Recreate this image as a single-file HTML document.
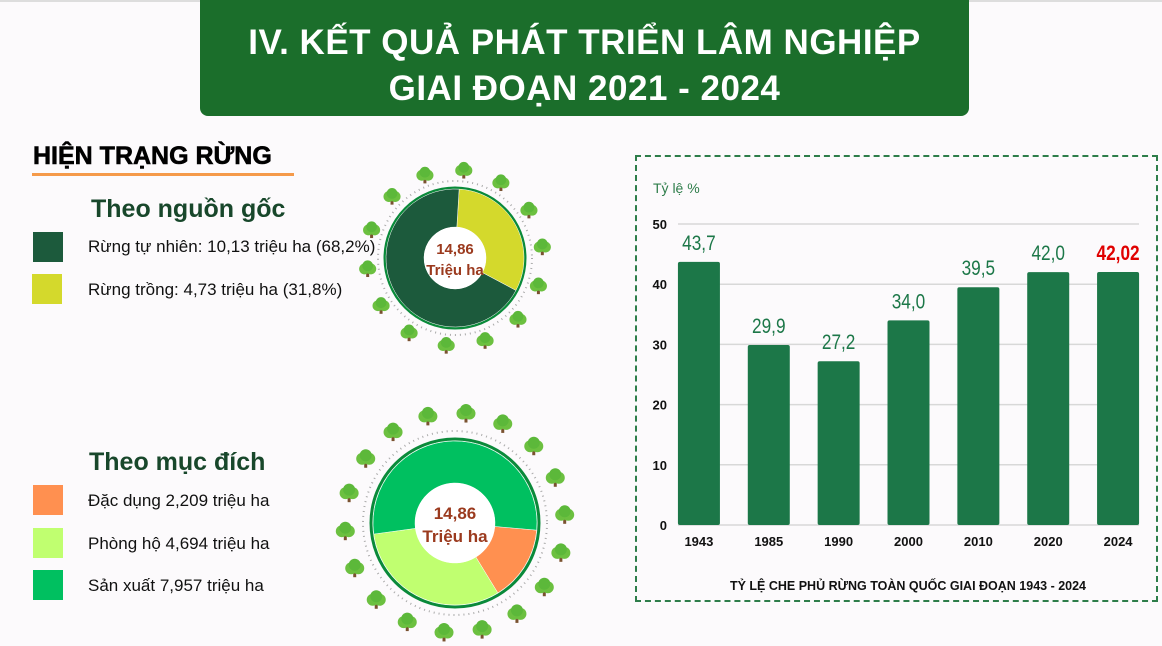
<!DOCTYPE html>
<html><head><meta charset="utf-8"><style>
body{margin:0;width:1162px;height:646px;background:#fcfafc;position:relative;overflow:hidden;font-family:"Liberation Sans","Noto Sans CJK SC",sans-serif}
.abs{position:absolute}
.hdr{left:200px;top:0;width:769px;height:116px;background:#1b6e2b;border-radius:0 0 8px 8px;color:#fff;text-align:center;font-weight:bold;font-size:35px;line-height:46px;padding-top:20px;box-sizing:border-box;letter-spacing:0.5px}
.sw{width:30px;height:30px}
.lg{font-size:17px;color:#111}
.t2{font-weight:bold;color:#18472b;font-size:25px}
</style></head><body>
<div class="abs" style="left:0;top:0;width:1162px;height:2px;background:#ddd"></div>
<div class="abs hdr">IV. KẾT QUẢ PHÁT TRIỂN LÂM NGHIỆP<br>GIAI ĐOẠN 2021 - 2024</div>
<div class="abs" style="left:33px;top:142px;font-weight:bold;font-size:25px;color:#000;-webkit-text-stroke:0.6px #000">HIỆN TRẠNG RỪNG</div>
<div class="abs" style="left:32px;top:173px;width:262px;height:3px;background:#f59a4a"></div>
<div class="abs t2" style="left:91px;top:195px">Theo nguồn gốc</div>
<div class="abs sw" style="left:33px;top:232px;background:#1c5a3c"></div>
<div class="abs lg" style="left:88px;top:237px">Rừng tự nhiên: 10,13 triệu ha (68,2%)</div>
<div class="abs sw" style="left:32px;top:274px;background:#d4d92c"></div>
<div class="abs lg" style="left:88px;top:280px">Rừng trồng: 4,73 triệu ha (31,8%)</div>
<div class="abs t2" style="left:89px;top:448px">Theo mục đích</div>
<div class="abs sw" style="left:33px;top:485px;background:#ff9050"></div>
<div class="abs lg" style="left:88px;top:491px">Đặc dụng 2,209 triệu ha</div>
<div class="abs sw" style="left:33px;top:528px;background:#c0ff70"></div>
<div class="abs lg" style="left:88px;top:534px">Phòng hộ 4,694 triệu ha</div>
<div class="abs sw" style="left:33px;top:570px;background:#00c060"></div>
<div class="abs lg" style="left:88px;top:576px">Sản xuất 7,957 triệu ha</div>

<svg class="abs" style="left:0;top:0" width="1162" height="646" id="donuts"></svg>

<div class="abs" style="left:635px;top:155px;width:523px;height:447px;border:2px dashed #2e7d4a;box-sizing:border-box"></div>
<svg class="abs" style="left:0;top:0" width="1162" height="646" id="bars"></svg>

<script>
const NS="http://www.w3.org/2000/svg";
function mk(p,t,a){const e=document.createElementNS(NS,t);for(const k in a)e.setAttribute(k,a[k]);p.appendChild(e);return e;}
// donut data
const originLabels=["Rừng tự nhiên","Rừng trồng"];
const originValues=[10.13,4.73];
const originColors=["#1c5a3c","#d4d92c"];
const purposeLabels=["Đặc dụng","Phòng hộ","Sản xuất"];
const purposeValues=[2.209,4.694,7.957];
const purposeColors=["#ff9050","#c0ff70","#00c060"];
// bar data
const years=["1943","1985","1990","2000","2010","2020","2024"];
const cover=[43.7,29.9,27.2,34.0,39.5,42.0,42.02];
const coverLabels=["43,7","29,9","27,2","34,0","39,5","42,0","42,02"];
const yTicks=[0,10,20,30,40,50];

const D=document.getElementById('donuts');
function arc(cx,cy,r0,r1,a0,a1){const p=a=>[(Math.sin(a)),(-Math.cos(a))];const [s0,c0]=p(a0),[s1,c1]=p(a1);const lg=(a1-a0)>Math.PI?1:0;
return `M${cx+r1*s0},${cy+r1*c0}A${r1},${r1} 0 ${lg} 1 ${cx+r1*s1},${cy+r1*c1}L${cx+r0*s1},${cy+r0*c1}A${r0},${r0} 0 ${lg} 0 ${cx+r0*s0},${cy+r0*c0}Z`;}
function tree(cx,cy,n,R,off,sz){for(let i=0;i<n;i++){const a=off+i*2*Math.PI/n;const x=cx+R*Math.sin(a),y=cy-R*Math.cos(a);
const g=mk(D,'g',{});
mk(g,'line',{x1:x,y1:y,x2:x,y2:y+sz*0.9,stroke:'#7a5230','stroke-width':3});
mk(g,'circle',{cx:x-sz*0.35,cy:y,r:sz*0.6,fill:'#6cc040'});
mk(g,'circle',{cx:x+sz*0.35,cy:y,r:sz*0.6,fill:'#6cc040'});
mk(g,'circle',{cx:x,cy:y-sz*0.35,r:sz*0.6,fill:'#5cb83a'});}}
function donut(cx,cy,ro,ri,vals,cols,start,ring,dots,treeR,nt,name,t1,t2,fs,sz){
mk(D,'circle',{cx,cy,r:dots,fill:'none',stroke:'#aaa','stroke-width':2,'stroke-dasharray':'1 4'});
tree(cx,cy,nt,treeR,0.1,sz);
mk(D,'circle',{cx,cy,r:ring,fill:'none',stroke:'#0a8a3a','stroke-width':3});
const tot=vals.reduce((a,b)=>a+b,0);let a=start;
vals.forEach((v,i)=>{const b=a+v/tot*2*Math.PI;const p=mk(D,'path',{d:arc(cx,cy,ri,ro,a,b),fill:cols[i],stroke:'#fff','stroke-width':0.5});
a=b;});
mk(D,'circle',{cx,cy,r:ri,fill:'#fff'});
const a1=mk(D,'text',{x:cx,y:cy-4,'text-anchor':'middle','font-weight':'bold','font-size':fs,fill:'#9b3a1e'});a1.textContent=t1;

const a2=mk(D,'text',{x:cx,y:cy+fs+2,'text-anchor':'middle','font-weight':'bold','font-size':fs,fill:'#9b3a1e'});a2.textContent=t2;
}
donut(455,258,69,31,[originValues[1],originValues[0]],[originColors[1],originColors[0]],0.06,70,77,88,14,'origin-donut','14,86','Triệu ha',15,9);
donut(455,523,82,40,purposeValues,purposeColors,95*Math.PI/180,84,92,110,18,'purpose-donut','14,86','Triệu ha',17,10);

// bar chart
const B=document.getElementById('bars');
const y0=525,yTop=224,yMax=50;const ys=v=>y0-(v/yMax)*(y0-yTop);
const x0=664,step=(1153-664)/years.length,bw=42;const xs=i=>x0+step*i+(step-bw)/2;
yTicks.forEach(t=>{const l=mk(B,'line',{x1:678,x2:1139,y1:ys(t),y2:ys(t),stroke:'#d8d8d8','stroke-width':1.5});

const tx=mk(B,'text',{x:667,y:ys(t)+5,'text-anchor':'end','font-size':13,'font-weight':'bold',fill:'#111'});tx.textContent=t;
});
cover.forEach((v,i)=>{const r=mk(B,'rect',{x:xs(i),y:ys(v),width:bw,height:y0-ys(v),rx:2,fill:'#1c7748'});

const last=i===cover.length-1;
const cx=xs(i)+bw/2;
const t=mk(B,'text',{x:cx,y:ys(v)-12,'text-anchor':'middle','font-size':21,'font-weight':last?'bold':'normal',fill:last?'#e00000':'#1c7748',transform:`translate(${cx},0) scale(0.82,1) translate(${-cx},0)`});
t.textContent=coverLabels[i];
const xl=mk(B,'text',{x:cx,y:546,'text-anchor':'middle','font-size':13,'font-weight':'bold',fill:'#111'});xl.textContent=years[i];
});
const yt=mk(B,'text',{x:653,y:193,'font-size':14,fill:'#2e7d4a'});yt.textContent='Tỷ lệ %';

const ct=mk(B,'text',{x:908,y:590,'text-anchor':'middle','font-size':12.5,'font-weight':'bold',fill:'#111'});ct.textContent='TỶ LỆ CHE PHỦ RỪNG TOÀN QUỐC GIAI ĐOẠN 1943 - 2024';

</script>
</body></html>
